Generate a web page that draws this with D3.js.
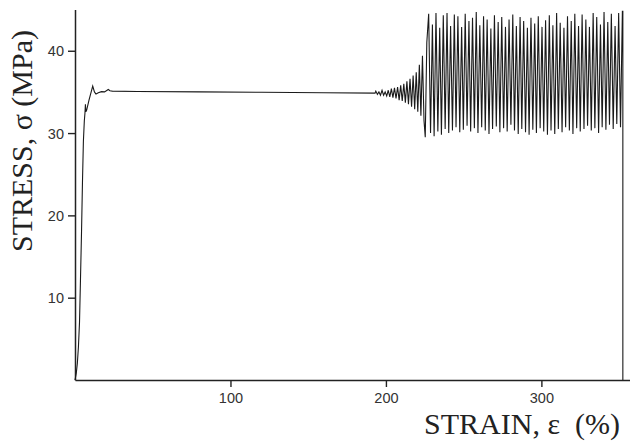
<!DOCTYPE html>
<html>
<head>
  <meta charset='utf-8' />
  <title>Stress-strain</title>
  <style>
    body { margin: 0; background: #fff; }
    .tick text { font-family: 'Liberation Sans', Arial, sans-serif; font-size: 14.5px; fill: #333; }
    .title { font-family: 'Liberation Serif', 'Times New Roman', serif; font-size: 30px; fill: #222; }
  </style>
</head>
<body>
<div id="wrapper"></div>
<script src='https://d3js.org/d3.v7.min.js' charset='utf-8'></script>
<script>
  // loading ramp + yield + plateau
  const rampStrain = [0, 0.8, 1.5, 2.2, 2.9, 3.5, 4.2, 4.8, 5.4, 6.0, 6.4, 6.7, 7.0, 7.5, 9, 11.4, 12.5, 13.5, 15, 17, 19, 21.4, 22.5, 24, 40, 80, 120, 160, 193]
  const rampStress = [0, 0.8, 2, 4, 7, 12, 18, 24, 29, 31.5, 32.4, 33.5, 32.6, 32.8, 34, 35.7, 35.0, 34.75, 34.9, 35.03, 35.0, 35.3, 35.15, 35.1, 35.05, 35.0, 34.95, 34.9, 34.85]

  // onset of oscillation
  const transStrain = [193.5, 194.5, 195.5, 196.5, 197.5, 198.5, 199.5, 200.5, 201.5, 202.5, 203.5, 204.5, 205.5, 206.5, 207.5, 208.5, 209.5, 210.5, 211.5, 212.5, 213.5, 214.5, 215.5, 216.5, 217.5, 218.5, 219.5, 220.5, 221.5, 222.5, 223.5, 224.5, 225.3, 226.3]
  const transStress = [35.1, 34.7, 35.0, 34.6, 35.2, 34.6, 35.0, 34.5, 35.2, 34.4, 35.4, 34.3, 35.5, 34.2, 35.6, 34.0, 35.8, 33.9, 36.0, 33.7, 36.3, 33.5, 36.6, 33.2, 37.0, 32.9, 37.4, 32.6, 38.3, 32.1, 39.4, 31.5, 29.5, 41.0]

  // serrated flow: peaks and troughs
  const peakStrain = [227.5, 229.9, 232.2, 234.6, 236.9, 239.3, 241.6, 244.0, 246.3, 248.7, 251.0, 253.4, 255.7, 258.1, 260.4, 262.8, 265.1, 267.5, 269.8, 272.2, 274.5, 276.9, 279.2, 281.6, 283.9, 286.3, 288.6, 291.0, 293.3, 295.7, 298.0, 300.4, 302.7, 305.1, 307.4, 309.8, 312.1, 314.5, 316.8, 319.2, 321.5, 323.9, 326.2, 328.6, 330.9, 333.3, 335.6, 338.0, 340.3, 342.7, 345.0, 347.4, 349.7, 352.1]
  const peakStress = [44.5, 43.2, 44.6, 42.8, 44.3, 44.6, 43.0, 44.4, 44.2, 42.9, 44.5, 43.6, 44.0, 44.7, 43.1, 44.2, 43.8, 42.7, 44.3, 43.5, 44.1, 42.9, 43.8, 44.4, 43.0, 44.1, 43.6, 42.8, 44.0, 43.3, 44.2, 42.9, 43.7, 44.3, 43.1, 44.6, 43.4, 42.8, 44.2, 43.6, 44.5, 43.0, 44.4, 43.8, 42.9, 44.6, 44.1, 43.2, 44.7, 43.5, 44.5, 43.0, 44.6, 44.8]
  const troughStrain = [228.7, 231.0, 233.4, 235.7, 238.1, 240.4, 242.8, 245.1, 247.5, 249.8, 252.2, 254.5, 256.9, 259.2, 261.6, 263.9, 266.3, 268.6, 271.0, 273.3, 275.7, 278.0, 280.4, 282.7, 285.1, 287.4, 289.8, 292.1, 294.5, 296.8, 299.2, 301.5, 303.9, 306.2, 308.6, 310.9, 313.3, 315.6, 318.0, 320.3, 322.7, 325.0, 327.4, 329.7, 332.1, 334.4, 336.8, 339.1, 341.5, 343.8, 346.2, 348.5, 350.9]
  const troughStress = [30.0, 29.6, 30.2, 29.8, 30.5, 30.0, 30.3, 30.7, 30.1, 30.4, 30.9, 30.2, 30.6, 30.0, 30.7, 30.3, 29.9, 30.5, 30.8, 30.1, 30.6, 30.2, 31.0, 30.3, 29.9, 30.5, 30.1, 29.8, 30.4, 30.0, 30.6, 30.2, 29.8, 30.3, 29.9, 30.5, 30.1, 30.7, 30.3, 29.9, 30.6, 30.2, 30.5, 30.9, 30.3, 30.6, 30.0, 30.7, 30.4, 31.0, 30.5, 31.1, 30.7]

  // fracture
  const breakStrain = [352.4, 352.4]
  const breakStress = [44.8, 0]

  const xTicks = [100, 200, 300]
  const yTicks = [10, 20, 30, 40]

  const data = []
  rampStrain.forEach((s, i) => data.push([s, rampStress[i]]))
  transStrain.forEach((s, i) => data.push([s, transStress[i]]))
  peakStrain.forEach((s, i) => {
    data.push([s, peakStress[i]])
    if (i < troughStrain.length) data.push([troughStrain[i], troughStress[i]])
  })
  breakStrain.forEach((s, i) => data.push([s, breakStress[i]]))

  const width = 630
  const height = 442

  const svg = d3.select('#wrapper')
    .append('svg')
      .attr('width', width)
      .attr('height', height)

  const x = d3.scaleLinear().domain([0, 357]).range([75, 630])
  const y = d3.scaleLinear().domain([0, 45]).range([380, 9.6])

  const xAxis = svg.append('g')
    .attr('transform', `translate(0,${y(0)})`)
    .call(d3.axisBottom(x).tickValues(xTicks).tickSize(7).tickSizeOuter(0).tickPadding(4))
  const yAxis = svg.append('g')
    .attr('transform', `translate(${x(0)},0)`)
    .call(d3.axisLeft(y).tickValues(yTicks).tickSize(7).tickSizeOuter(0).tickPadding(4))

  ;[xAxis, yAxis].forEach(a => {
    a.attr('font-size', 14.5)
    a.select('.domain').attr('stroke', '#222').attr('stroke-width', 1.5)
    a.selectAll('.tick line').attr('stroke', '#222').attr('stroke-width', 1.4)
  })
  xAxis.selectAll('.tick text').attr('dy', '0.85em')
  yAxis.selectAll('.tick text').attr('dy', '0.36em')

  const line = d3.line()
    .x(d => x(d[0]))
    .y(d => y(d[1]))

  svg.append('path')
    .datum(data)
    .attr('fill', 'none')
    .attr('stroke', '#1a1a1a')
    .attr('stroke-width', 1.1)
    .attr('d', line)

  svg.append('text')
    .attr('class', 'title')
    .attr('x', 620)
    .attr('y', 434)
    .attr('text-anchor', 'end')
    .style('white-space', 'pre')
    .text('STRAIN, ε  (%)')

  svg.append('text')
    .attr('class', 'title')
    .attr('transform', 'translate(32,141) rotate(-90)')
    .attr('text-anchor', 'middle')
    .text('STRESS, σ (MPa)')
</script>
</body>
</html>
